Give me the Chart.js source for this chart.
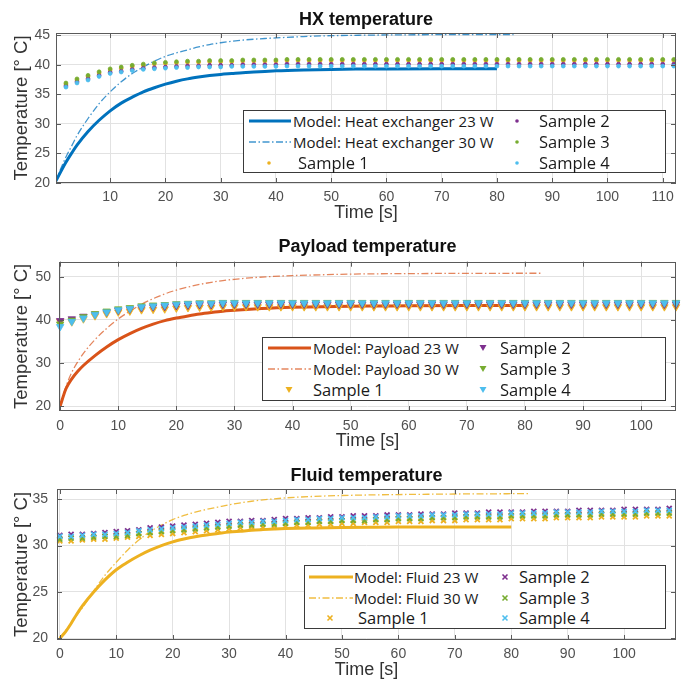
<!DOCTYPE html>
<html>
<head>
<meta charset="utf-8">
<script src="https://cdn.jsdelivr.net/npm/chart.js@4.4.1/dist/chart.umd.min.js"></script>
<style>
  body { margin: 0; background: #fff; width: 691px; height: 688px; position: relative; overflow: hidden; }
  .panel { position: absolute; left: 0; width: 691px; }
  .legend { position: absolute; border: 1px solid #3a3a3a; background: #fff; box-sizing: border-box; }
  .legend .txt { position: absolute; white-space: nowrap; font-family: "Open Sans", sans-serif; color: #1a1a1a; line-height: 20px; height: 20px; }
  .legend svg { position: absolute; }
</style>
</head>
<body>
<div class="panel" style="top:0;height:228px"><canvas id="hx" width="691" height="228"></canvas></div>
<div class="panel" style="top:228px;height:230px"><canvas id="payload" width="691" height="230"></canvas></div>
<div class="panel" style="top:458px;height:230px"><canvas id="fluid" width="691" height="230"></canvas></div>
<script>
// Model curves (time in s, temperature in deg C)
const modelTime23 = [0,1,2,3,4,6,8,10,12,14,16,18,20,22,24,26,28,30,32,34,36,38,40,45,50,55,60,70,80];
const modelTime30 = [0,1,2,3,4,6,8,10,12,14,16,18,20,22,24,26,28,30,32,34,36,38,40,45,50,55,60,70,83];

const hxModel23 = [20,21.8,23.5,25.0,26.4,28.7,30.6,32.2,33.5,34.5,35.4,36.1,36.7,37.2,37.6,37.9,38.15,38.35,38.5,38.65,38.75,38.85,38.95,39.1,39.2,39.25,39.28,39.3,39.3];
const hxModel30 = [20,22.3,24.4,26.2,28.0,30.9,33.4,35.4,37.1,38.5,39.6,40.6,41.4,42.0,42.5,43.0,43.4,43.7,43.95,44.15,44.3,44.42,44.52,44.75,44.9,44.97,45.02,45.07,45.1];
const payloadModel23 = [20,24.0,26.3,28.0,29.4,31.7,33.7,35.4,36.8,38.0,39.0,39.8,40.4,40.9,41.35,41.7,42.0,42.2,42.4,42.55,42.7,42.8,42.9,43.05,43.15,43.2,43.25,43.3,43.3];
const payloadModel30 = [20,24.5,27.8,30.2,32.2,35.4,38.0,40.2,42.0,43.6,44.9,46.0,46.9,47.6,48.2,48.7,49.1,49.4,49.65,49.85,50.0,50.15,50.25,50.45,50.6,50.68,50.72,50.78,50.8];
const fluidModel23 = [20,20.7,21.6,22.6,23.5,25.0,26.3,27.4,28.2,28.9,29.5,30.0,30.4,30.7,30.95,31.15,31.3,31.45,31.55,31.65,31.72,31.78,31.83,31.9,31.95,31.98,32.0,32.0,32.0];
const fluidModel30 = [20,20.8,21.6,22.5,23.3,25.1,26.8,28.2,29.5,30.6,31.5,32.2,32.8,33.25,33.6,33.9,34.15,34.4,34.6,34.78,34.92,35.04,35.14,35.3,35.4,35.46,35.5,35.56,35.6];

// Measured samples
const hxSampleTime = [2,4,6,8,10,12,14,16,18,20,22,24,26,28,30,32,34,36,38,40,42,44,46,48,50,52,54,56,58,60,62,64,66,68,70,72,74,76,78,80,
  82,84,86,88,90,92,94,96,98,100,102,104,106,108,110,112];
const hxSample1 = [36.7,37.4,38.0,38.6,39.1,39.4,39.7,39.9,40.1,40.2,40.3,40.4,40.4,40.5,40.5,40.5,40.6,40.6,40.6,40.6,
  40.7,40.7,40.7,40.7,40.7,40.7,40.7,40.7,40.7,40.7,40.7,40.7,40.7,40.7,40.7,40.7,40.7,40.7,40.7,40.7,
  40.7,40.7,40.7,40.7,40.7,40.7,40.7,40.7,40.7,40.7,40.7,40.7,40.7,40.7,40.7,40.7];
const hxSample2 = [36.4,37.1,37.6,38.2,38.7,38.9,39.2,39.4,39.5,39.6,39.7,39.8,39.8,39.9,39.9,39.9,40.0,40.0,40.0,40.0,
  40.1,40.1,40.1,40.1,40.1,40.1,40.1,40.1,40.1,40.1,40.1,40.1,40.1,40.1,40.1,40.1,40.1,40.1,40.1,40.1,
  40.1,40.1,40.1,40.1,40.1,40.1,40.1,40.1,40.1,40.1,40.1,40.1,40.1,40.1,40.1,40.1];
const hxSample3 = [36.9,37.6,38.2,38.8,39.3,39.6,39.9,40.1,40.3,40.4,40.5,40.6,40.6,40.7,40.7,40.7,40.8,40.8,40.8,40.8,
  40.9,40.9,40.9,40.9,40.9,40.9,40.9,40.9,40.9,40.9,40.9,40.9,40.9,40.9,40.9,40.9,40.9,40.9,40.9,40.9,
  40.9,40.9,40.9,40.9,40.9,40.9,40.9,40.9,40.9,40.9,40.9,40.9,40.9,40.9,40.9,40.9];
const hxSample4 = [36.2,36.9,37.4,38.0,38.5,38.75,39.0,39.2,39.3,39.4,39.5,39.5,39.6,39.6,39.6,39.7,39.7,39.7,39.7,39.7,
  39.75,39.75,39.75,39.75,39.75,39.75,39.75,39.75,39.75,39.75,39.75,39.75,39.75,39.75,39.75,39.75,39.75,39.75,39.75,39.75,
  39.75,39.75,39.75,39.75,39.75,39.75,39.75,39.75,39.75,39.75,39.75,39.75,39.75,39.75,39.75,39.75];

const payloadSampleTime = [0,2,4,6,8,10,12,14,16,18,20,22,24,26,28,30,32,34,36,38,40,42,44,46,48,50,52,54,56,58,60,62,64,66,68,70,72,74,76,78,80,
  82,84,86,88,90,92,94,96,98,100,102,104,106];
const payloadSample1 = [39.6,39.5,40.2,40.9,41.4,41.8,42.0,42.3,42.4,42.5,42.7,42.8,42.9,42.9,43.0,
  43.0,43.0,43.0,43.0,43.0,43.0,43.0,43.0,43.0,43.0,43.0,43.0,43.0,43.0,43.0,43.0,43.0,43.0,43.0,43.0,
  43.0,43.0,43.0,43.0,43.0,43.0,43.0,43.0,43.0,43.0,43.0,43.0,43.0,43.0,43.0,43.0,43.0,43.0,43.0];
const payloadSample2 = [39.8,40.2,40.8,41.3,41.8,42.2,42.5,42.8,43.0,43.1,43.3,43.4,43.5,43.5,43.6,
  43.6,43.6,43.6,43.6,43.6,43.6,43.6,43.6,43.6,43.6,43.6,43.6,43.6,43.6,43.6,43.6,43.6,43.6,43.6,43.6,
  43.6,43.6,43.6,43.6,43.6,43.6,43.6,43.6,43.6,43.6,43.6,43.6,43.6,43.6,43.6,43.6,43.6,43.6,43.6];
const payloadSample3 = [39.0,39.9,40.7,41.4,42.0,42.5,42.8,43.2,43.4,43.5,43.7,43.8,43.9,43.9,44.0,
  44.0,44.0,44.0,44.0,44.0,44.0,44.0,44.0,44.0,44.0,44.0,44.0,44.0,44.0,44.0,44.0,44.0,44.0,44.0,44.0,
  44.0,44.0,44.0,44.0,44.0,44.0,44.0,44.0,44.0,44.0,44.0,44.0,44.0,44.0,44.0,44.0,44.0,44.0,44.0];
const payloadSample4 = [38.4,39.6,40.4,41.2,41.8,42.3,42.6,43.0,43.2,43.4,43.6,43.7,43.8,43.8,43.9,
  43.9,43.9,43.9,43.9,43.9,43.9,43.9,43.9,43.9,43.9,43.9,43.9,43.9,43.9,43.9,43.9,43.9,43.9,43.9,43.9,
  43.9,43.9,43.9,43.9,43.9,43.9,43.9,43.9,43.9,43.9,43.9,43.9,43.9,43.9,43.9,43.9,43.9,43.9,43.9];

const fluidSampleTime = [0,2,4,6,8,10,12,14,16,18,20,22,24,26,28,30,32,34,36,38,40,42,44,46,48,50,52,54,56,58,60,62,64,66,68,70,72,74,76,78,80,
  82,84,86,88,90,92,94,96,98,100,102,104,106,108];
const fluidSample1 = [30.5,30.5,30.6,30.7,30.7,30.8,30.9,31.0,31.1,31.2, 31.3,31.4,31.5,31.6,31.7,31.8,31.9,32.0,32.0,32.1,
  32.1,32.2,32.2,32.3,32.3,32.4,32.4,32.5,32.5,32.5, 32.6,32.6,32.6,32.7,32.7,32.7,32.8,32.8,32.8,32.8,
  32.9,32.9,32.9,32.9,33.0,33.0,33.0,33.0,33.1,33.1, 33.1,33.1,33.2,33.2,33.2];
const fluidSample2 = [31.1,31.2,31.2,31.3,31.4,31.5,31.6,31.7,31.9,32.0, 32.1,32.2,32.3,32.4,32.5,32.6,32.6,32.7,32.7,32.8,
  32.9,32.9,33.0,33.0,33.1,33.1,33.2,33.2,33.2,33.3, 33.3,33.3,33.4,33.4,33.4,33.5,33.5,33.5,33.6,33.6,
  33.6,33.6,33.7,33.7,33.7,33.7,33.8,33.8,33.8,33.8, 33.9,33.9,33.9,33.9,34.0];
const fluidSample3 = [30.7,30.8,30.8,30.9,31.0,31.0,31.1,31.3,31.4,31.5, 31.6,31.7,31.8,31.9,32.0,32.1,32.2,32.2,32.3,32.3,
  32.4,32.5,32.5,32.6,32.6,32.7,32.7,32.7,32.8,32.8, 32.9,32.9,32.9,33.0,33.0,33.0,33.1,33.1,33.1,33.1,
  33.2,33.2,33.2,33.2,33.3,33.3,33.3,33.3,33.4,33.4, 33.4,33.4,33.5,33.5,33.5];
const fluidSample4 = [31.0,31.0,31.1,31.2,31.2,31.3,31.4,31.6,31.7,31.8, 31.9,32.0,32.1,32.2,32.3,32.4,32.5,32.5,32.6,32.6,
  32.7,32.8,32.8,32.9,32.9,33.0,33.0,33.0,33.1,33.1, 33.2,33.2,33.2,33.3,33.3,33.3,33.4,33.4,33.4,33.4,
  33.5,33.5,33.5,33.5,33.6,33.6,33.6,33.6,33.7,33.7, 33.7,33.7,33.8,33.8,33.8];

// tick labels
const hxXTicks = [10,20,30,40,50,60,70,80,90,100,110];
const hxYTicks = [20,25,30,35,40,45];
const payloadXTicks = [0,10,20,30,40,50,60,70,80,90,100];
const payloadYTicks = [20,30,40,50];
const fluidXTicks = [0,10,20,30,40,50,60,70,80,90,100];
const fluidYTicks = [20,25,30,35];

const sampleLabels = ['Sample 1', 'Sample 2', 'Sample 3', 'Sample 4'];
const sampleColors = ['#EDB120', '#7E2F8E', '#77AC30', '#4DBEEE'];

const pts = (xs, ys) => xs.map((x, i) => ({ x: x, y: ys[i] }));

// box with inward ticks, like the matlab axes
const boxPlugin = {
  id: 'box',
  afterDatasetsDraw(chart) {
    const { ctx, chartArea: a, scales: { x, y } } = chart;
    ctx.save();
    ctx.strokeStyle = '#5a5a5a';
    ctx.lineWidth = 1;
    ctx.strokeRect(Math.round(a.left) + 0.5, Math.round(a.top) + 0.5, Math.round(a.width) - 1, Math.round(a.height) - 1);
    ctx.beginPath();
    x.ticks.forEach(t => {
      const px = Math.round(x.getPixelForValue(t.value)) + 0.5;
      ctx.moveTo(px, a.bottom); ctx.lineTo(px, a.bottom - 5);
      ctx.moveTo(px, a.top); ctx.lineTo(px, a.top + 5);
    });
    y.ticks.forEach(t => {
      const py = Math.round(y.getPixelForValue(t.value)) + 0.5;
      ctx.moveTo(a.left, py); ctx.lineTo(a.left + 5, py);
      ctx.moveTo(a.right, py); ctx.lineTo(a.right - 5, py);
    });
    ctx.stroke();
    ctx.restore();
  }
};

function makeChart(id, c) {
  const datasets = [
    { label: c.lines[0], data: pts(modelTime23, c.model23), showLine: true, borderColor: c.color, borderWidth: 3,
      pointRadius: 0, cubicInterpolationMode: 'monotone', order: 5, kind: 'solid' },
    { label: c.lines[1], data: pts(modelTime30, c.model30), showLine: true, borderColor: c.color30, borderWidth: 1.3,
      borderDash: [7, 2.5, 1.5, 2.5], pointRadius: 0, cubicInterpolationMode: 'monotone', order: 4, kind: 'dash' }
  ];
  c.samples.forEach((s, i) => {
    datasets.push({
      label: sampleLabels[i], data: pts(c.sampleTime, s), showLine: false,
      pointStyle: c.marker, rotation: c.marker === 'triangle' ? 180 : 0,
      pointRadius: c.markerSize, borderWidth: c.marker === 'crossRot' ? 1.8 : 0.8,
      borderColor: sampleColors[i], backgroundColor: sampleColors[i],
      order: 3 - i, clip: 8, kind: 'marker'
    });
  });

  const chart = new Chart(document.getElementById(id), {
    type: 'scatter',
    data: { datasets },
    options: {
      responsive: false, animation: false, devicePixelRatio: 1,
      layout: { padding: { left: 0, right: 15, top: 0, bottom: 0 } },
      plugins: {
        legend: { display: false }, tooltip: { enabled: false },
        title: { display: true, text: c.title, fullSize: false, color: '#111',
          font: { family: 'Liberation Sans, Arial', size: 18, weight: 'bold' },
          padding: { top: c.titleTop, bottom: c.titleBottom } }
      },
      scales: {
        x: {
          type: 'linear', min: c.xMin, max: c.xMax,
          afterBuildTicks: s => { s.ticks = c.xTicks.map(v => ({ value: v })); },
          afterFit: s => { s.height = c.xHeight; },
          grid: { color: '#e2e2e2', drawTicks: false }, border: { display: false },
          ticks: { autoSkip: false, maxRotation: 0, padding: c.xTickPad, color: '#505050',
            font: { family: 'Liberation Sans, Arial', size: 14 } },
          title: { display: true, text: 'Time [s]', color: '#333',
            font: { family: 'Liberation Sans, Arial', size: 18 }, padding: { top: 0, bottom: c.xTitlePad } }
        },
        y: {
          type: 'linear', min: c.yMin, max: c.yMax,
          afterBuildTicks: s => { s.ticks = c.yTicks.map(v => ({ value: v })); },
          afterFit: s => { s.width = c.yWidth; },
          grid: { color: '#e2e2e2', drawTicks: false }, border: { display: false },
          ticks: { autoSkip: false, padding: c.yTickPad, color: '#505050',
            font: { family: 'Liberation Sans, Arial', size: 14 } },
          title: { display: true, text: 'Temperature [° C]', color: '#333',
            font: { family: 'Liberation Sans, Arial', size: 18.5 }, padding: { top: 11, bottom: 0 } }
        }
      }
    },
    plugins: [boxPlugin]
  });
  buildLegend(chart, c.legend);
  return chart;
}

function swatch(ds, w) {
  const ns = 'http://www.w3.org/2000/svg';
  const svg = document.createElementNS(ns, 'svg');
  svg.setAttribute('width', w); svg.setAttribute('height', 12);
  let el;
  if (ds.kind !== 'marker') {
    el = document.createElementNS(ns, 'line');
    el.setAttribute('x1', 0); el.setAttribute('x2', w); el.setAttribute('y1', 6); el.setAttribute('y2', 6);
    el.setAttribute('stroke', ds.borderColor); el.setAttribute('stroke-width', ds.borderWidth);
    if (ds.borderDash) el.setAttribute('stroke-dasharray', ds.borderDash.join(' '));
  } else if (ds.pointStyle === 'circle') {
    el = document.createElementNS(ns, 'circle');
    el.setAttribute('cx', w / 2); el.setAttribute('cy', 6); el.setAttribute('r', 1.8);
    el.setAttribute('fill', ds.backgroundColor);
  } else if (ds.pointStyle === 'triangle') {
    el = document.createElementNS(ns, 'polygon');
    const m = w / 2;
    el.setAttribute('points', `${m - 3.5},3 ${m + 3.5},3 ${m},9`);
    el.setAttribute('fill', ds.backgroundColor);
  } else {
    el = document.createElementNS(ns, 'path');
    const m = w / 2;
    el.setAttribute('d', `M${m - 2.5} 3.5 L${m + 2.5} 8.5 M${m + 2.5} 3.5 L${m - 2.5} 8.5`);
    el.setAttribute('stroke', ds.borderColor); el.setAttribute('stroke-width', 1.6);
  }
  svg.appendChild(el);
  return svg;
}

function buildLegend(chart, L) {
  const box = document.createElement('div');
  box.className = 'legend';
  Object.assign(box.style, { left: L.left + 'px', top: L.top + 'px', width: L.width + 'px', height: L.height + 'px' });
  const ds = chart.data.datasets;
  // column 1: two model lines and sample 1, column 2: samples 2-4
  const cells = [
    { d: ds[0], row: 0, sx: L.lineX, sw: L.lineW, tx: L.textX, fs: 15 },
    { d: ds[1], row: 1, sx: L.lineX, sw: L.lineW, tx: L.textX, fs: 15 },
    { d: ds[2], row: 2, sx: L.s1X - 6, sw: 12, tx: L.s1TextX, fs: 16.5 },
    { d: ds[3], row: 0, sx: L.c2X - 6, sw: 12, tx: L.c2TextX, fs: 16.5 },
    { d: ds[4], row: 1, sx: L.c2X - 6, sw: 12, tx: L.c2TextX, fs: 16.5 },
    { d: ds[5], row: 2, sx: L.c2X - 6, sw: 12, tx: L.c2TextX, fs: 16.5 }
  ];
  cells.forEach(cell => {
    const y = L.rows[cell.row];
    const sv = swatch(cell.d, cell.sw);
    sv.style.left = cell.sx + 'px'; sv.style.top = (y - 6) + 'px';
    box.appendChild(sv);
    const t = document.createElement('div');
    t.className = 'txt';
    t.textContent = cell.d.label;
    t.style.left = cell.tx + 'px'; t.style.top = (y - 10) + 'px'; t.style.fontSize = cell.fs + 'px';
    box.appendChild(t);
  });
  chart.canvas.parentNode.appendChild(box);
}

makeChart('hx', {
  title: 'HX temperature', lines: ['Model: Heat exchanger 23 W', 'Model: Heat exchanger 30 W'],
  color: '#0072BD', color30: 'rgba(0,114,189,0.75)',
  model23: hxModel23, model30: hxModel30,
  sampleTime: hxSampleTime, samples: [hxSample1, hxSample2, hxSample3, hxSample4],
  marker: 'circle', markerSize: 1.9,
  xMin: 0.2, xMax: 112.4, yMin: 20, yMax: 45.35, xTicks: hxXTicks, yTicks: hxYTicks,
  titleTop: 9, titleBottom: 2.4, xHeight: 45, xTickPad: 6, xTitlePad: 3.8, yWidth: 56, yTickPad: 6,
  legend: { left: 243, top: 110, width: 423, height: 63, rows: [10, 31, 52],
    lineX: 5, lineW: 42, textX: 49, s1X: 25, s1TextX: 54, c2X: 273, c2TextX: 295 }
});

makeChart('payload', {
  title: 'Payload temperature', lines: ['Model: Payload 23 W', 'Model: Payload 30 W'],
  color: '#D95319', color30: 'rgba(217,83,25,0.7)',
  model23: payloadModel23, model30: payloadModel30,
  sampleTime: payloadSampleTime, samples: [payloadSample1, payloadSample2, payloadSample3, payloadSample4],
  marker: 'triangle', markerSize: 4.3,
  xMin: -0.2, xMax: 106, yMin: 18.84, yMax: 53.48, xTicks: payloadXTicks, yTicks: payloadYTicks,
  titleTop: 8.5, titleBottom: 3.6, xHeight: 47, xTickPad: 6.5, xTitlePad: 5.8, yWidth: 59, yTickPad: 8,
  legend: { left: 262, top: 109, width: 404, height: 64, rows: [10, 31, 52],
    lineX: 5, lineW: 43, textX: 50, s1X: 26, s1TextX: 50, c2X: 220, c2TextX: 237 }
});

makeChart('fluid', {
  title: 'Fluid temperature', lines: ['Model: Fluid 23 W', 'Model: Fluid 30 W'],
  color: '#EDB120', color30: 'rgba(237,177,32,0.85)',
  model23: fluidModel23, model30: fluidModel30,
  sampleTime: fluidSampleTime, samples: [fluidSample1, fluidSample2, fluidSample3, fluidSample4],
  marker: 'crossRot', markerSize: 3.5,
  xMin: -0.5, xMax: 109.2, yMin: 19.82, yMax: 36.1, xTicks: fluidXTicks, yTicks: fluidYTicks,
  titleTop: 7, titleBottom: 2.4, xHeight: 48, xTickPad: 5.5, xTitlePad: 6.8, yWidth: 57, yTickPad: 9,
  legend: { left: 304, top: 107, width: 362, height: 64, rows: [11, 32, 52],
    lineX: 4, lineW: 44, textX: 49, s1X: 25, s1TextX: 53, c2X: 200, c2TextX: 214 }
});
</script>
</body>
</html>
